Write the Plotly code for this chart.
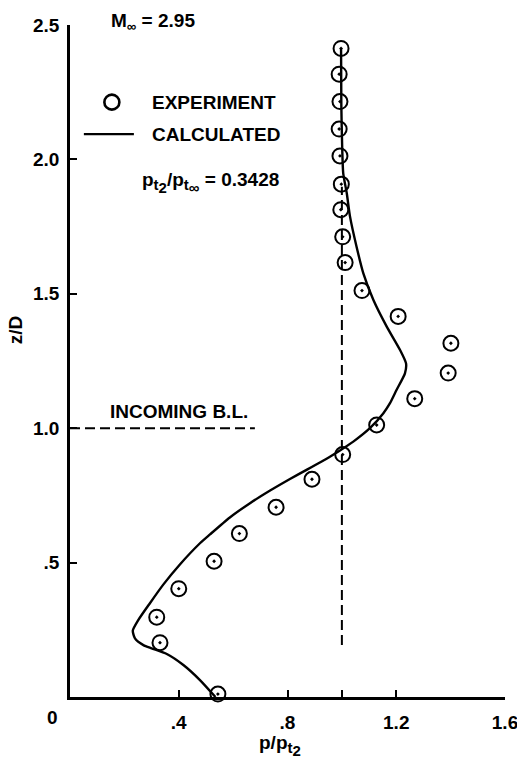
import plotly.graph_objects as go

# Experiment data (p/pt2, z/D)
exp_x = [0.997, 0.990, 0.993, 0.990, 0.993, 0.998, 0.996, 1.003, 1.012, 1.074, 1.207,
         1.401, 1.391, 1.268, 1.128, 1.003, 0.890, 0.758, 0.623, 0.530, 0.400, 0.319,
         0.331, 0.544]
exp_z = [2.413, 2.317, 2.215, 2.113, 2.013, 1.908, 1.813, 1.712, 1.616, 1.512, 1.416,
         1.316, 1.205, 1.110, 1.012, 0.902, 0.810, 0.706, 0.608, 0.505, 0.403, 0.297,
         0.202, 0.011]

# Calculated curve
calc_x = [0.535, 0.478, 0.417, 0.356, 0.300, 0.270, 0.239, 0.231, 0.251, 0.294, 0.343,
          0.405, 0.478, 0.515, 0.588, 0.662, 0.736, 0.809, 0.870, 0.956, 0.993, 1.042,
          1.103, 1.152, 1.177, 1.201, 1.232, 1.236, 1.214, 1.165, 1.116, 1.079, 1.054,
          1.030, 1.018, 1.005, 1.001, 0.998, 0.997]
calc_z = [0.000, 0.063, 0.119, 0.160, 0.181, 0.193, 0.218, 0.247, 0.286, 0.349, 0.418,
          0.494, 0.572, 0.605, 0.668, 0.721, 0.768, 0.811, 0.845, 0.894, 0.917, 0.950,
          1.000, 1.055, 1.093, 1.142, 1.204, 1.241, 1.291, 1.378, 1.477, 1.576, 1.675,
          1.787, 1.874, 1.948, 2.050, 2.200, 2.414]

x_tickvals = [0.4, 0.8, 1.0, 1.2, 1.6]
x_ticktext = ['.4', '.8', '', '1.2', '1.6']
y_tickvals = [0.5, 1.0, 1.5, 2.0, 2.5]
y_ticktext = ['.5', '1.0', '1.5', '2.0', '2.5']

ref_x = 1.0
ref_z_range = [0.193, 1.898]
bl_z = 1.0
bl_x_range = [0.0, 0.68]

FONT = "Liberation Sans, Arial, sans-serif"

fig = go.Figure()
fig.add_trace(go.Scatter(x=calc_x, y=calc_z, mode='lines',
                         line=dict(color='black', width=2.4, shape='spline', smoothing=0.6),
                         showlegend=False, hoverinfo='skip'))
fig.add_trace(go.Scatter(x=exp_x, y=exp_z, mode='markers',
                         marker=dict(symbol='circle-open-dot', size=15, color='black',
                                     line=dict(width=2, color='black')),
                         showlegend=False, cliponaxis=False))
# legend sample marker
fig.add_trace(go.Scatter(x=[0.154], y=[2.213], mode='markers',
                         marker=dict(symbol='circle-open', size=15, color='black',
                                     line=dict(width=2.6, color='black')),
                         showlegend=False, cliponaxis=False))

shapes = [
    dict(type='line', xref='x', yref='y', x0=ref_x, x1=ref_x, y0=ref_z_range[0], y1=ref_z_range[1],
         line=dict(color='black', width=2, dash='10px,5px')),
    dict(type='line', xref='x', yref='y', x0=bl_x_range[0], x1=bl_x_range[1], y0=bl_z, y1=bl_z,
         line=dict(color='black', width=2, dash='10px,5px')),
    dict(type='line', xref='x', yref='y', x0=0.051, x1=0.235, y0=2.094, y1=2.094,
         line=dict(color='black', width=2.4)),
]

ann_font = dict(family=FONT, size=19, color='black', weight='bold')
S1 = '<span style="font-size:15px">'
S2 = '<span style="font-size:15px">'
E = '</span>'
annotations = [
    dict(x=0.294, y=2.213, text='EXPERIMENT', xanchor='left', yanchor='middle', showarrow=False, font=ann_font),
    dict(x=0.294, y=2.094, text='CALCULATED', xanchor='left', yanchor='middle', showarrow=False, font=ann_font),
    dict(x=0.257, y=1.915,
         text='p<sub>' + S1 + 't' + E + '<sub>' + S2 + '2' + E + '</sub></sub>/p<sub>' + S1 + 't' + E
              + '<sub>' + S2 + '∞' + E + '</sub></sub> = 0.3428',
         xanchor='left', yanchor='middle', showarrow=False, font=ann_font),
    dict(x=0.40, y=1.062, text='INCOMING B.L.', xanchor='center', yanchor='middle', showarrow=False, font=ann_font),
    dict(xref='paper', yref='paper', x=0.191, y=1.005, text='M<sub>∞</sub> = 2.95',
         xanchor='center', yanchor='middle', showarrow=False, font=ann_font),
    dict(xref='paper', yref='paper', x=-0.126, y=0.546, text='z/D', textangle=-90,
         xanchor='center', yanchor='middle', showarrow=False, font=ann_font),
    dict(xref='paper', yref='paper', x=0.483, y=-0.072,
         text='p/p<sub>' + S1 + 't' + E + '<sub>' + S2 + '2' + E + '</sub></sub>',
         xanchor='center', yanchor='middle', showarrow=False, font=ann_font),
    dict(xref='paper', yref='paper', x=-0.041, y=-0.030, text='0', xanchor='center', yanchor='middle',
         showarrow=False, font=ann_font),
]

tick_font = dict(family=FONT, size=19, color='black', weight='bold')
fig.update_layout(
    width=517, height=765,
    margin=dict(l=70, r=12, t=25, b=68, autoexpand=False),
    paper_bgcolor='white', plot_bgcolor='white',
    shapes=shapes, annotations=annotations,
    xaxis=dict(range=[0, 1.6], showgrid=False, zeroline=False, showline=True, linecolor='black',
               linewidth=2.5, ticks='inside', ticklen=7, tickwidth=2, tickcolor='black',
               tickvals=x_tickvals, ticktext=x_ticktext, tickfont=tick_font, ticklabelstandoff=6,
               ticklabeloverflow='allow', automargin=False),
    yaxis=dict(range=[0, 2.5], showgrid=False, zeroline=False, showline=True, linecolor='black',
               linewidth=2.5, ticks='inside', ticklen=7, tickwidth=2, tickcolor='black',
               tickvals=y_tickvals, ticktext=y_ticktext, tickfont=tick_font, ticklabelstandoff=4,
               ticklabeloverflow='allow', automargin=False),
)

fig.write_html("out.html")
